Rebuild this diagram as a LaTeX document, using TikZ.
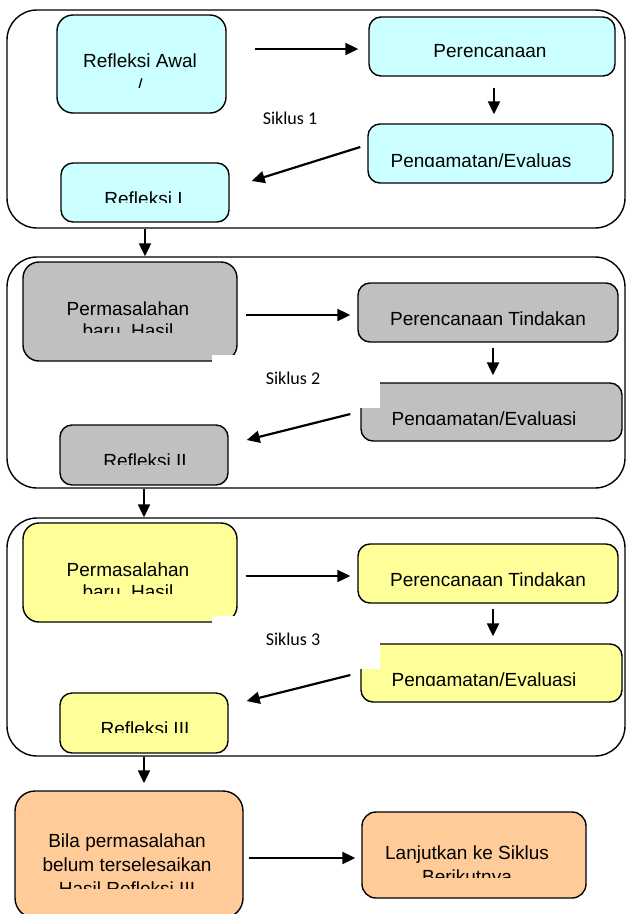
\documentclass[tikz,border=0pt]{standalone}
\usepackage{fontspec}
\usetikzlibrary{arrows.meta}
\newfontfamily\arialfam{Liberation Sans}
\newfontfamily\calfam{Carlito}
\definecolor{refcyan}{HTML}{CCFFFF}
\definecolor{refgray}{HTML}{C0C0C0}
\definecolor{refyellow}{HTML}{FFFF99}
\definecolor{reforange}{HTML}{FFCC99}
\tikzset{
  siklusbox/.style={draw, line width=1.4pt, rounded corners=30pt, inner sep=0pt, minimum width=618pt},
  langkah/.style={draw, line width=1.4pt, rounded corners=12pt, inner sep=0pt},
  tulis/.style={font=\arialfam\fontsize{19}{23}\selectfont, anchor=base, inner sep=0pt},
  siklustxt/.style={font=\calfam\fontsize{18}{22}\selectfont, inner sep=0pt},
  panah/.style={line width=2.2pt, -{Triangle[length=13pt,width=12pt]}}
}
\begin{document}
\begin{tikzpicture}[x=1pt,y=-1pt]
\useasboundingbox (0,0) rectangle (626,914);

% siklus 1
\node[siklusbox, minimum height=218pt] (sik1) at (316,119) {};
\node[langkah, fill=refcyan, rounded corners=16pt, minimum width=169pt, minimum height=98pt] (awal) at (141.5,64) {};
\node[tulis] (awalA) at (140,67) {Refleksi Awal};
\begin{scope}
\clip (60,15) rectangle (220,87);
\node[tulis] (awalB) at (140,92) {/};
\end{scope}
\node[langkah, fill=refcyan, minimum width=246pt, minimum height=59pt] (renc1) at (492,46.5) {};
\node[tulis] (renc1T) at (490,57) {Perencanaan};
\node[langkah, fill=refcyan, minimum width=245pt, minimum height=59pt] (amat1) at (490.5,153.5) {};
\begin{scope}
\clip (370,126) rectangle (610,166);
\node[tulis] (amat1T) at (481,167) {Pengamatan/Evaluas};
\end{scope}
\node[siklustxt] (sik1T) at (290,118) {Siklus 1};
\node[langkah, fill=refcyan, minimum width=168pt, minimum height=59pt] (refl1) at (145,192.5) {};
\begin{scope}
\clip (63,165) rectangle (227,202);
\node[tulis] (refl1T) at (143.5,205) {Refleksi I};
\end{scope}
\draw[panah] ([xshift=28pt,yshift=15pt]awal.east) -- ([xshift=-10pt,yshift=-2.5pt]renc1.west);
\draw[panah] ([xshift=2pt,yshift=-11pt]renc1.south) -- ([xshift=3.5pt,yshift=9pt]amat1.north);
\draw[panah] ([xshift=-7pt,yshift=6.5pt]amat1.west) -- ([xshift=22pt,yshift=11.5pt]refl1.east);

% siklus 2 dan 3
\foreach \dy/\dr/\warna/\n/\rom in {0/0/refgray/2/II, 261/268/refyellow/3/III}{
\node[siklusbox, minimum height={231+\dr-\dy}] (sik\n) at (316,{372.5+(\dy+\dr)/2}) {};
\node[langkah, fill=\warna, rounded corners=16pt, minimum width=214pt, minimum height=99pt] (perm\n) at (130,{311.5+\dy}) {};
\node[tulis] (perm\n A) at (128,{315+\dy}) {Permasalahan};
\begin{scope}
\clip (25,{300+\dy}) rectangle (235,{332+\dy});
\node[tulis] (perm\n B) at (128,{337+\dy}) {baru, Hasil};
\end{scope}
\fill[white] (212,{355+\dy}) rectangle (241,{367+\dy});
\node[langkah, fill=\warna, minimum width=260pt, minimum height=59pt] (renc\n) at (488,{312.5+\dy}) {};
\node[tulis] (renc\n T) at (488,{325+\dy}) {Perencanaan Tindakan};
\node[langkah, fill=\warna, minimum width=261pt, minimum height=58pt] (amat\n) at (491.5,{412+\dy}) {};
\fill[white] (355,{378+\dy}) rectangle (380,{408+\dy});
\begin{scope}
\clip (365,{385+\dy}) rectangle (618,{424+\dy});
\node[tulis] (amat\n T) at (484,{425+\dy}) {Pengamatan/Evaluasi};
\end{scope}
\node[siklustxt] (sik\n T) at (293,{378+\dy}) {Siklus \n};
\node[langkah, fill=\warna, minimum width=168pt, minimum height=60pt] (refl\n) at (144,{455+\dr}) {};
\begin{scope}
\clip (62,{427+\dr}) rectangle (226,{464+\dr});
\node[tulis] (refl\n T) at (145,{467+\dr}) {Refleksi \rom};
\end{scope}
\draw[panah] ([xshift=8pt,yshift=-3.5pt]perm\n.east) -- ([xshift=-7pt,yshift=-2.5pt]renc\n.west);
\draw[panah] ([xshift=5pt,yshift=-5pt]renc\n.south) -- ([xshift=1.5pt,yshift=7pt]amat\n.north);
\draw[panah] ([xshift=-10pt,yshift=-2pt]amat\n.west) -- ([xshift=18pt,yshift={15+\dr-\dy}]refl\n.east);
}
\draw[panah] (refl1.south |- sik1.south) -- (refl1.south |- sik2.north);
\draw[panah] (refl2.south |- sik2.south) -- (refl2.south |- sik3.north);

% lanjut
\node[langkah, fill=reforange, rounded corners=20pt, minimum width=228pt, minimum height=127pt] (bila) at (129,854.5) {};
\node[tulis] (bilaA) at (127,847) {Bila permasalahan};
\node[tulis] (bilaB) at (127,871) {belum terselesaikan};
\begin{scope}
\clip (20,875) rectangle (238,888);
\node[tulis] (bilaC) at (127,895) {Hasil Refleksi III};
\end{scope}
\node[langkah, fill=reforange, rounded corners=14pt, minimum width=224pt, minimum height=86pt] (lanjut) at (474,855) {};
\node[tulis] (lanjutA) at (467,859) {Lanjutkan ke Siklus};
\begin{scope}
\clip (365,864) rectangle (583,877);
\node[tulis] (lanjutB) at (467,883) {Berikutnya};
\end{scope}
\draw[panah, shorten >=7pt] (refl3.south |- sik3.south) -- (refl3.south |- bila.north);
\draw[panah] ([xshift=5pt,yshift=-3.5pt]bila.east) -- ([xshift=-6pt,yshift=-3pt]lanjut.west);

\end{tikzpicture}
\end{document}
